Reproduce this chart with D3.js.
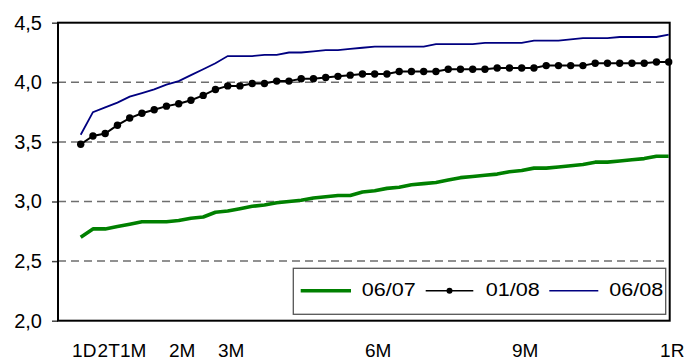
<!DOCTYPE html>
<html><head><meta charset="utf-8">
<script src="https://cdn.jsdelivr.net/npm/d3@7"></script>
<style>
body{margin:0;background:#fff}
svg{display:block}
text{font-family:"Liberation Sans",Arial,sans-serif;fill:#000}
</style>
</head><body>
<svg id="c" width="687" height="361"></svg>
<script>
const categories = ["1D","1T","2T","3T",
  "1M","1M1T","1M2T","1M3T","2M","2M1T","2M2T","2M3T","3M","3M1T","3M2T","3M3T",
  "4M","4M1T","4M2T","4M3T","5M","5M1T","5M2T","5M3T","6M","6M1T","6M2T","6M3T",
  "7M","7M1T","7M2T","7M3T","8M","8M1T","8M2T","8M3T","9M","9M1T","9M2T","9M3T",
  "10M","10M1T","10M2T","10M3T","11M","11M1T","11M2T","11M3T","1R"];
const tickLabels = ["1D","2T","1M","2M","3M","6M","9M","1R"];
const yTicks = [2.0, 2.5, 3.0, 3.5, 4.0, 4.5];
const seriesNames = ["06/07", "01/08", "06/08"];

const s0607 = [2.70,2.77,2.77,2.79,2.81,2.83,2.83,2.83,2.84,2.86,
               2.87,2.91,2.92,2.94,2.96,2.97,2.99,3.00,3.01,3.03,
               3.04,3.05,3.05,3.08,3.09,3.11,3.12,3.14,3.15,3.16,
               3.18,3.20,3.21,3.22,3.23,3.25,3.26,3.28,3.28,3.29,
               3.30,3.31,3.33,3.33,3.34,3.35,3.36,3.38,3.38];
const s0108 = [3.48,3.55,3.57,3.64,3.70,3.74,3.77,3.80,3.82,3.85,
               3.89,3.94,3.97,3.97,3.99,3.99,4.01,4.01,4.03,4.03,
               4.04,4.05,4.06,4.07,4.07,4.07,4.09,4.09,4.09,4.09,
               4.11,4.11,4.11,4.11,4.12,4.12,4.12,4.12,4.14,4.14,
               4.14,4.14,4.16,4.16,4.16,4.16,4.16,4.17,4.17];
const s0608 = [3.56,3.75,3.79,3.83,3.88,3.91,3.94,3.98,4.01,4.06,
               4.11,4.16,4.22,4.22,4.22,4.23,4.23,4.25,4.25,4.26,
               4.27,4.27,4.28,4.29,4.30,4.30,4.30,4.30,4.30,4.32,
               4.32,4.32,4.32,4.33,4.33,4.33,4.33,4.35,4.35,4.35,
               4.36,4.37,4.37,4.37,4.38,4.38,4.38,4.38,4.40];

const svg = d3.select("#c");
const L = 58, R = 669.7, T = 22.7, B = 320.7;
const x = d3.scalePoint().domain(categories).range([80.7, 668.7]);
const y = d3.scaleLinear().domain([2, 4.5]).range([B, T]);

// gridlines
svg.append("g").selectAll("line")
  .data(yTicks.filter(v => v > 2 && v < 4.5)).join("line")
  .attr("x1", L).attr("x2", R)
  .attr("y1", d => y(d)).attr("y2", d => y(d))
  .attr("stroke", "#6e6e6e").attr("stroke-width", 1.5)
  .attr("stroke-dasharray", "8,5");

// y axis
const yAxis = svg.append("g").attr("transform", `translate(${L},0)`)
  .call(d3.axisLeft(y).tickValues(yTicks)
    .tickFormat(d => d3.format(".1f")(d).replace(".", ","))
    .tickSize(6).tickPadding(10));
yAxis.select(".domain").remove();
yAxis.selectAll(".tick line").attr("stroke", "#444").attr("stroke-width", 1.5);
yAxis.selectAll("text").attr("font-size", 20).attr("font-family", '"Liberation Sans",Arial,sans-serif').attr("fill", "#000");

// x axis
const xAxis = svg.append("g").attr("transform", `translate(0,${B})`)
  .call(d3.axisBottom(x).tickValues(tickLabels).tickSize(0).tickPadding(22.5));
xAxis.select(".domain").remove();
xAxis.selectAll("text").attr("font-size", 19).attr("dx", 3)
  .attr("font-family", '"Liberation Sans",Arial,sans-serif').attr("fill", "#000");

// plot border
svg.append("rect").attr("x", L).attr("y", T).attr("width", R - L).attr("height", B - T)
  .attr("fill", "none").attr("stroke", "#000").attr("stroke-width", 2);

const line = d3.line().x((d, i) => x(categories[i])).y(d => y(d));

svg.append("path").datum(s0607).attr("d", line)
  .attr("fill", "none").attr("stroke", "#008000").attr("stroke-width", 3.6)
  .attr("stroke-linejoin", "round");

svg.append("path").datum(s0108).attr("d", line)
  .attr("fill", "none").attr("stroke", "#000").attr("stroke-width", 2);
svg.append("g").selectAll("circle").data(s0108).join("circle")
  .attr("cx", (d, i) => x(categories[i])).attr("cy", d => y(d)).attr("r", 3.7)
  .attr("fill", "#000");

svg.append("path").datum(s0608).attr("d", line)
  .attr("fill", "none").attr("stroke", "#000080").attr("stroke-width", 1.8);

// legend
const lg = svg.append("g");
lg.append("rect").attr("x", 293.3).attr("y", 268.3).attr("width", 372.4).attr("height", 46)
  .attr("fill", "#fff").attr("stroke", "#555").attr("stroke-width", 1.3);
const ly = 290.7;
const items = [
  {name: seriesNames[0], x1: 300.7, x2: 351, color: "#008000", w: 3.6, dot: false, tx: 361.7},
  {name: seriesNames[1], x1: 425.7, x2: 473.3, color: "#000", w: 1.6, dot: true, tx: 485.7},
  {name: seriesNames[2], x1: 549.3, x2: 598.3, color: "#000080", w: 1.6, dot: false, tx: 609.3}
];
items.forEach(it => {
  lg.append("line").attr("x1", it.x1).attr("x2", it.x2).attr("y1", ly).attr("y2", ly)
    .attr("stroke", it.color).attr("stroke-width", it.w);
  if (it.dot) lg.append("circle").attr("cx", (it.x1 + it.x2) / 2).attr("cy", ly).attr("r", 3).attr("fill", "#000");
  lg.append("text").attr("transform", `translate(${it.tx},296) scale(1.2,1)`)
    .attr("font-size", 18).text(it.name);
});
</script>
</body></html>
